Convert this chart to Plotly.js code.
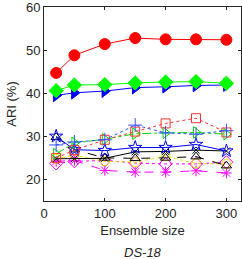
<!DOCTYPE html>
<html><head><meta charset="utf-8">
<script src="https://cdn.plot.ly/plotly-3.0.1.min.js"></script>
<style>html,body{margin:0;padding:0;background:#fff;}#chart{width:242px;height:259px;}</style>
</head><body><div id="chart"></div>
<script>
const ensembleSizes = [20, 50, 100, 150, 200, 250, 300];
const redCircle   = [44.7, 48.8, 51.4, 52.8, 52.5, 52.5, 52.4];
const greenDiamond= [40.6, 41.9, 42.0, 42.4, 42.6, 42.7, 42.3];
const blueTri     = [39.5, 40.1, 40.5, 41.3, 41.5, 41.8, 41.9];
const bluePlus    = [28.0, 28.7, 29.2, 32.6, 30.8, 30.5, 31.3];
const redSquare   = [25.0, 26.8, 29.2, 31.1, 33.0, 34.2, 30.9];
const greenTri    = [25.9, 28.5, 29.3, 30.6, 30.8, 30.9, 30.5];
const blueStar    = [30.0, 26.9, 26.7, 27.4, 27.4, 28.1, 26.6];
const blackSolid  = [24.8, 24.8, 24.9, 26.4, 26.5, 26.8, 26.6];
const blackTri    = [29.8, 26.9, 25.0, 24.9, 25.0, 25.3, 23.2];
const yellowCirc  = [24.8, 25.6, 24.2, 24.0, 25.4, 23.7, 23.6];
const magDiamond  = [23.7, 24.2, 24.4, 23.8, 23.6, 23.6, 24.0];
const magStar     = [24.2, 24.4, 22.1, 21.7, 21.7, 22.0, 21.5];
const yTicks = [20, 30, 40, 50, 60];
const xTicks = [0, 100, 200, 300];
const xTitle = 'Ensemble size';
const subTitle = 'DS-18';
const yTitle = 'ARI (%)';

function tr(y, color, dash, symbol, size) {
  return {
    x: ensembleSizes, y: y, type: 'scatter', mode: 'lines+markers',
    line: {color: color, width: 1, dash: dash},
    marker: {symbol: symbol, size: size, color: color,
             line: {color: color, width: 1}},
    cliponaxis: false, showlegend: false
  };
}
const data = [
  tr(magStar, '#ff00ff', 'dash', 'asterisk-open', 9),
  tr(magDiamond, '#ff00ff', 'dot', 'diamond-open', 10),
  tr(yellowCirc, '#e6e600', 'dot', 'circle-open', 9),
  tr(blackTri, '#000000', 'dash', 'triangle-up-open', 9),
  tr(blackSolid, '#000000', 'solid', 'x-thin-open', 7),
  tr(blueStar, '#0000ff', 'solid', 'star-open', 10),
  tr(greenTri, '#00dd00', 'dashdot', 'triangle-right-open', 10),
  tr(redSquare, '#ff3030', 'dot', 'square-open', 9),
  tr(bluePlus, '#3050ff', 'dot', 'cross-thin-open', 10),
  tr(blueTri, '#0000ff', 'solid', 'triangle-right', 11),
  tr(greenDiamond, '#00ff00', 'solid', 'diamond', 11),
  tr(redCircle, '#ff0000', 'solid', 'circle', 11)
];
const fnt = {family: 'Liberation Sans, Arial, sans-serif', size: 13, color: '#262626'};
const layout = {
  width: 242, height: 259,
  margin: {l: 44, r: 1, t: 7, b: 58},
  paper_bgcolor: '#fff', plot_bgcolor: '#fff',
  font: fnt,
  xaxis: {range: [0, 324], tickvals: xTicks, ticks: 'inside', ticklen: 3,
          showgrid: false, zeroline: false, showline: true, mirror: 'ticks',
          linecolor: '#262626', linewidth: 1, tickcolor: '#262626', tickfont: fnt,
          ticklabeloverflow: 'allow',
          title: {text: xTitle, font: fnt, standoff: 6}},
  yaxis: {range: [15, 60], tickvals: yTicks, ticks: 'inside', ticklen: 3,
          showgrid: false, zeroline: false, showline: true, mirror: 'ticks',
          linecolor: '#262626', linewidth: 1, tickcolor: '#262626', tickfont: fnt,
          ticklabeloverflow: 'allow',
          title: {text: yTitle, font: fnt, standoff: 6}},
  annotations: [{text: '<i>' + subTitle + '</i>', xref: 'paper', yref: 'paper',
                 x: 0.5, y: 0, yshift: -51, showarrow: false, font: fnt,
                 xanchor: 'center', yanchor: 'middle'}]
};
Plotly.newPlot('chart', data, layout, {displayModeBar: false, staticPlot: true});
</script></body></html>
